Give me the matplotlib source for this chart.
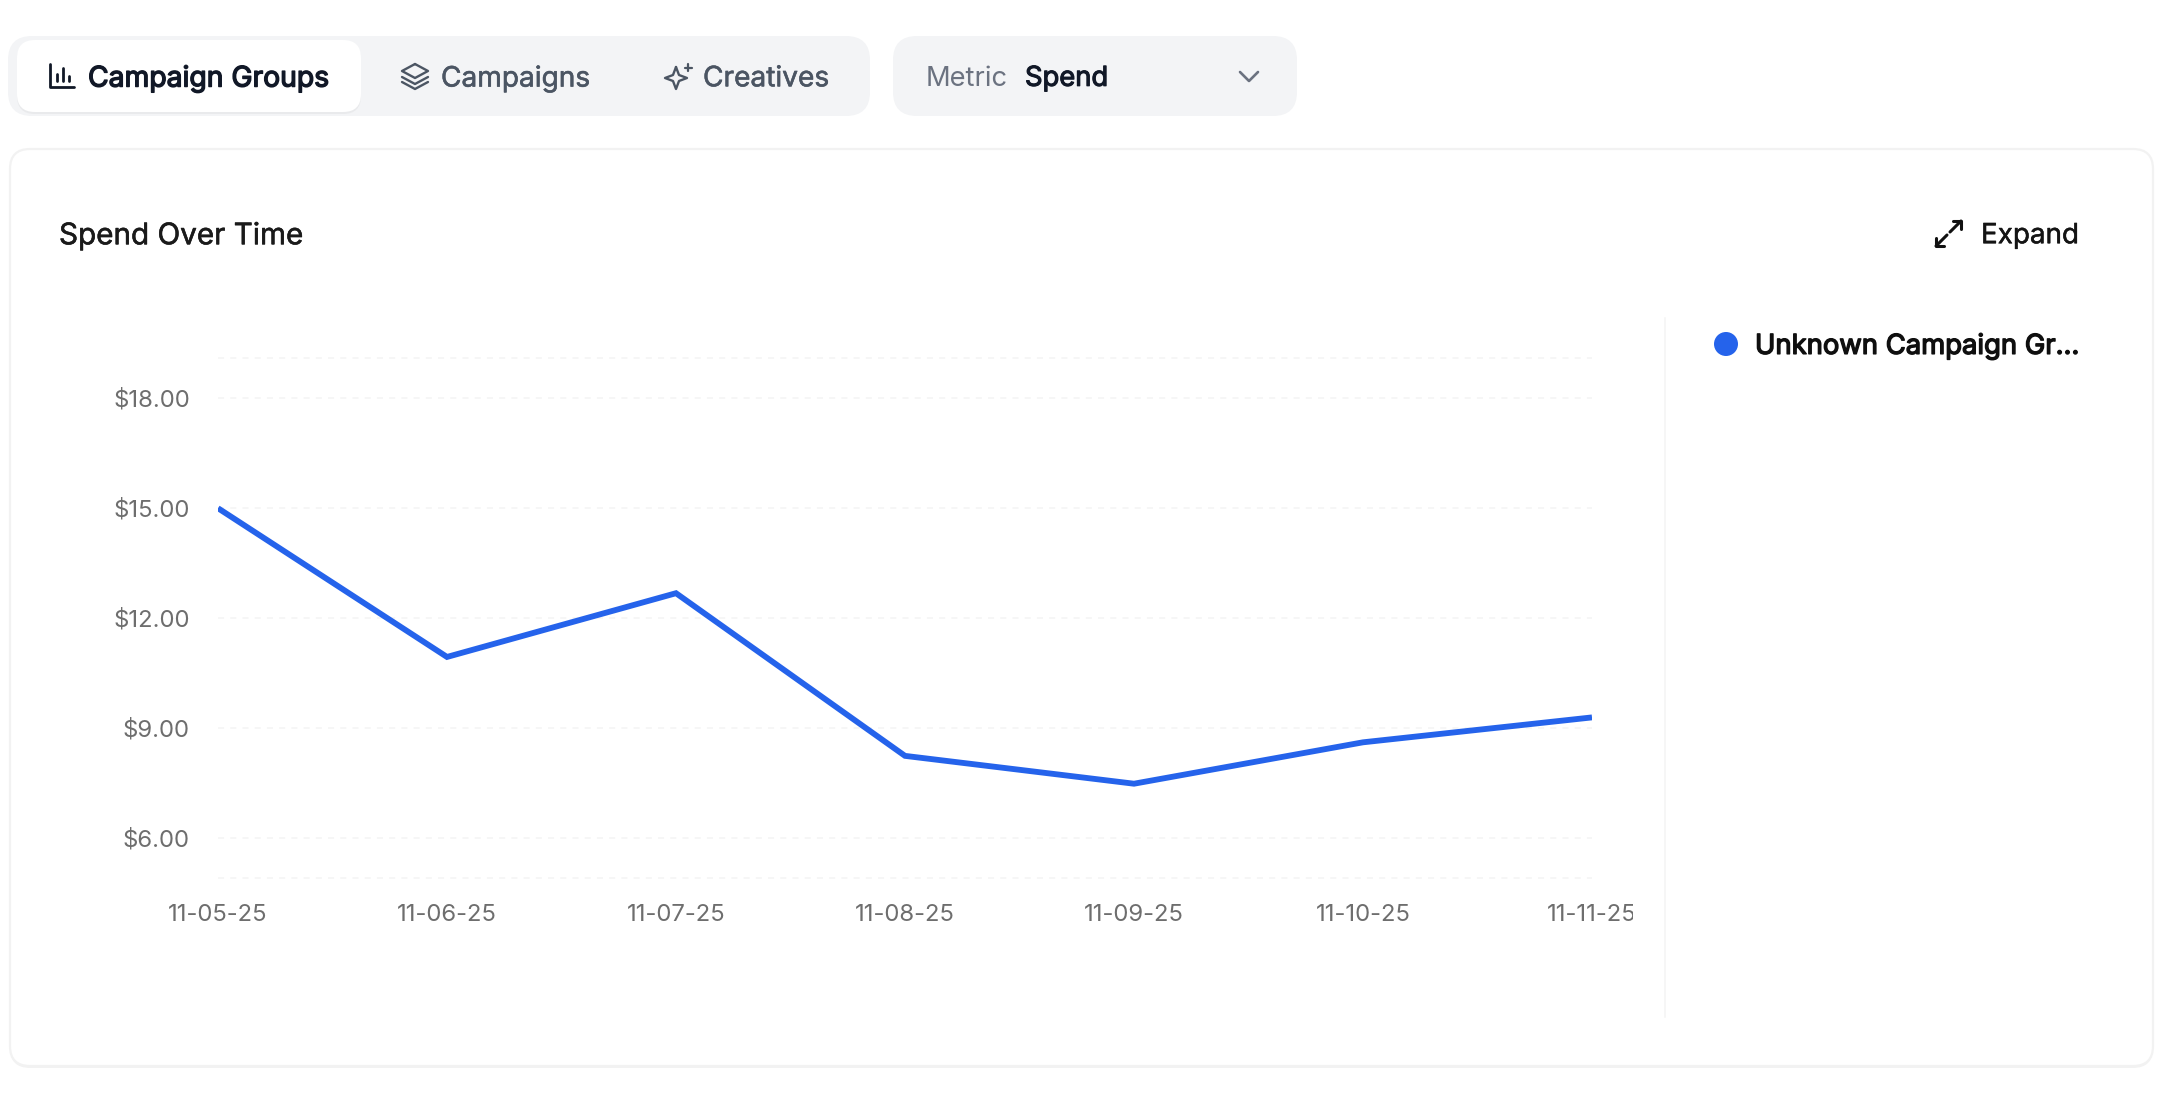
import matplotlib
matplotlib.use("Agg")
import matplotlib.pyplot as plt
from matplotlib.patches import FancyBboxPatch, Circle
from matplotlib.transforms import Bbox
import matplotlib.patheffects as pe

dates = ["11-05-25", "11-06-25", "11-07-25", "11-08-25", "11-09-25", "11-10-25", "11-11-25"]
spend = [14.99, 10.93, 12.67, 8.23, 7.47, 8.60, 9.28]
y_ticks = [6, 9, 12, 15, 18]
y_domain = [4.91, 19.09]
series_name = "Unknown Campaign Gr..."
tabs = ["Campaign Groups", "Campaigns", "Creatives"]

W, H, DPI = 2164, 1102, 100
plt.rcParams['font.family'] = ['Inter', 'DejaVu Sans']
fig = plt.figure(figsize=(W / DPI, H / DPI), dpi=DPI, facecolor="white")
bg = fig.add_axes([0, 0, 1, 1])
bg.set_xlim(0, W); bg.set_ylim(H, 0); bg.axis("off")
fig.canvas.draw()
rend = fig.canvas.get_renderer()

def box(x0, y0, x1, y1, r, fc, ec="none", lw=0, z=1):
    p = FancyBboxPatch((x0, y0), x1 - x0, y1 - y0, boxstyle=f"round,pad=0,rounding_size={r}",
                       fc=fc, ec=ec, lw=lw, zorder=z)
    bg.add_patch(p)

def fit(x0, x1, yc, s, color, bold=0.0, size=20):
    t = bg.text(x0, yc, s, color=color, fontsize=size, va="center_baseline", ha="left", zorder=6)
    w = t.get_window_extent(rend).width
    t.set_fontsize(size * (x1 - x0) / w)
    if bold:
        t.set_path_effects([pe.withStroke(linewidth=bold, foreground=color)])
    return t

def stroke(pts, color, lw=2.0, z=6):
    xs, ys = zip(*pts)
    bg.plot(xs, ys, color=color, lw=lw, solid_capstyle="round", solid_joinstyle="round", zorder=z)

# page chrome
box(8, 36, 870, 116, 24, "#f3f4f6")
box(893, 36, 1297, 116, 24, "#f3f4f6")
box(17, 42, 361, 114, 18, "#e9eaec", z=2)
box(17, 40, 361, 112, 18, "white", z=3)
box(10, 151, 2153, 1068, 20, "#f3f3f3", z=1)
box(10, 149, 2153, 1066, 20, "white", ec="#f2f2f2", lw=1.6, z=2)

# tab labels
dark, slate = "#111827", "#4b5563"
fit(88, 329, 75.8, tabs[0], dark, bold=1.0)
fit(441, 590, 75.8, tabs[1], slate, bold=0.4)
fit(703, 829, 75.8, tabs[2], slate, bold=0.4)
fit(926, 1008, 75.8, "Metric", "#6b7280")
fit(1025, 1108, 75.8, "Spend", dark, bold=0.8)
fit(59, 303, 233, "Spend Over Time", "#1a1a1a", bold=0.4)
fit(1981, 2079, 233.2, "Expand", "#141414", bold=0.35)
fit(1755, 2079, 343.6, series_name, "#0f0f0f", bold=1.0)

# icons
stroke([(50, 64), (50, 87), (74, 87)], dark)
stroke([(57, 81), (57, 74)], dark); stroke([(63, 81), (63, 68)], dark); stroke([(69, 81), (69, 76)], dark)
stroke([(415, 64), (428, 71), (415, 78), (402, 71), (415, 64)], slate, lw=1.7)
stroke([(402, 77), (415, 84), (428, 77)], slate, lw=1.7)
stroke([(402, 82), (415, 89), (428, 82)], slate, lw=1.7)
stroke([(676, 67), (679, 75), (687, 78), (679, 81), (676, 89), (673, 81), (665, 78), (673, 75), (676, 67)], slate, lw=1.7)
stroke([(688, 64), (688, 71)], slate, lw=1.6); stroke([(685, 67.5), (692, 67.5)], slate, lw=1.6)
stroke([(1240, 72), (1249, 81), (1258, 72)], "#6b7280", lw=1.9)
ic = "#111111"
stroke([(1936, 246), (1947, 235)], ic, lw=2.2); stroke([(1936, 238), (1936, 246), (1944, 246)], ic, lw=2.2)
stroke([(1950, 232), (1961, 221)], ic, lw=2.2); stroke([(1953, 221), (1961, 221), (1961, 229)], ic, lw=2.2)

# divider + legend
bg.plot([1664.5, 1664.5], [318, 1017], color="#f4f4f4", lw=1.1, zorder=4)
bg.add_patch(Circle((1726, 344), 12, fc="#2563eb", ec="none", zorder=6))

# chart
ax = fig.add_axes([218 / W, 1 - 877.5 / H, (1592 - 218) / W, (877.5 - 358) / H], facecolor="none")
xs = list(range(len(dates)))
ax.set_xlim(xs[0], xs[-1]); ax.set_ylim(*y_domain)
for sp in ax.spines.values():
    sp.set_visible(False)
ax.set_yticks(y_ticks, [f"${v:.2f}" for v in y_ticks])
ax.set_xticks(xs, dates)
ax.tick_params(length=0, labelcolor="#6e6e6e", labelsize=17.2)
ax.tick_params(axis="y", pad=20.2)
ax.tick_params(axis="x", pad=19.0)
for v in y_ticks + y_domain:
    ax.axhline(v, color="#f4f4f4", lw=1.1, dashes=(4, 4), zorder=1, clip_on=False)
ax.plot(xs, spend, color="#2563eb", lw=4.2, solid_capstyle="butt", solid_joinstyle="miter", clip_on=True, zorder=3)
fig.canvas.draw()
for lab in ax.get_xticklabels():
    lab.set_clip_on(True)
    lab.set_clip_box(Bbox([[0, 0], [1633, H]]))

fig.savefig("out.png", dpi=DPI, facecolor="white")
